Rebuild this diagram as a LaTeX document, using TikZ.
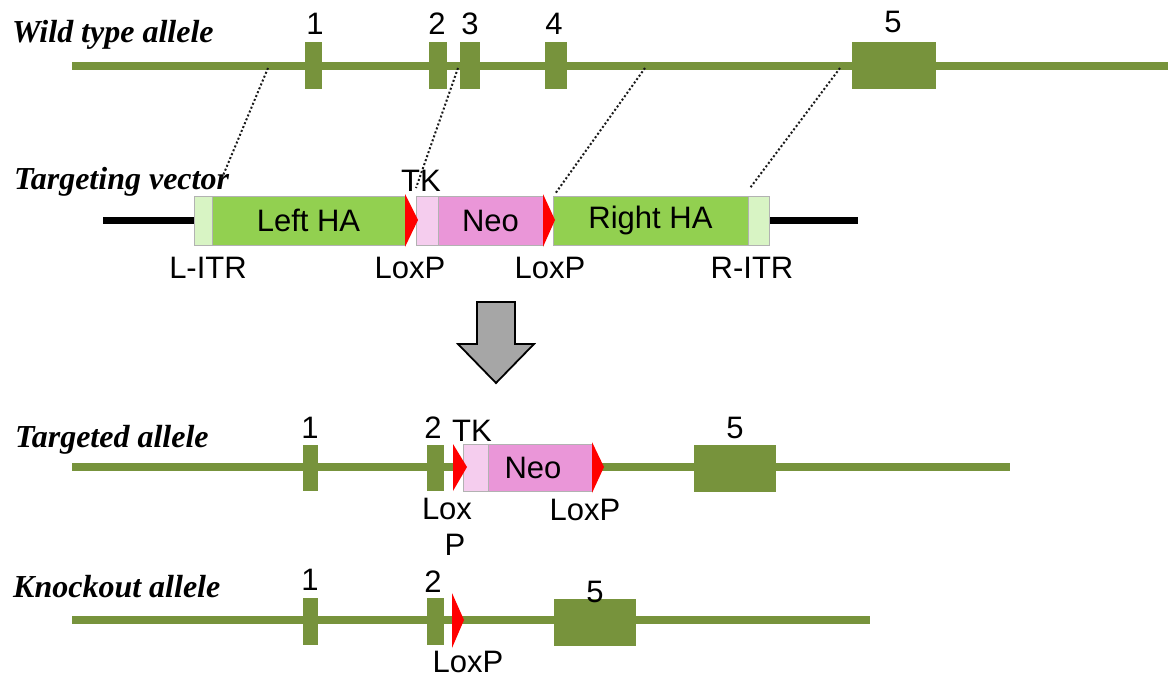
\documentclass[tikz,border=0pt]{standalone}
\usepackage{fontspec}
\setmainfont{Liberation Sans}
\newfontfamily\titlefont{Liberation Serif}
\definecolor{olive}{HTML}{77933C}
\definecolor{hagreen}{HTML}{92D050}
\definecolor{itrgreen}{HTML}{D8F4C4}
\definecolor{neopink}{HTML}{EA96D8}
\definecolor{tkpink}{HTML}{F5CDEE}
\definecolor{arrowgray}{HTML}{A6A6A6}
\begin{document}
\begin{tikzpicture}[x=1pt,y=-1pt,
  exon/.style={rectangle,fill=olive,draw=none,inner sep=0pt},
  blk/.style={rectangle,draw=black!30,line width=0.8pt,inner sep=0pt,font=\fontsize{31}{32}\selectfont},
  gene/.style={olive,line width=7.5pt},
  vec/.style={black,line width=7pt},
  lbl/.style={font=\fontsize{31}{32}\selectfont,inner sep=0pt},
  ttl/.style={font=\titlefont\bfseries\itshape\fontsize{32}{33}\selectfont,anchor=west,inner sep=0pt},
  lox/.style={fill=red,draw=none},
  guide/.style={line width=2pt,dash pattern=on 2pt off 2.2pt,black!90}]
\useasboundingbox (0,0) rectangle (1171,677);

% ---------- Wild type allele ----------
\node[ttl] (twt) at (12,35) {Wild type allele};
\coordinate (wtL) at (72,66);
\coordinate (wtR) at (1168,66);
\draw[gene] (wtL) -- (wtR);
\node[exon,minimum width=17pt,minimum height=47pt] (w1) at (313.5,65.5) {};
\node[exon,minimum width=18pt,minimum height=47pt] (w2) at (438,65.5) {};
\node[exon,minimum width=20pt,minimum height=47pt] (w3) at (470,65.5) {};
\node[exon,minimum width=22pt,minimum height=47pt] (w4) at (556,65.5) {};
\node[exon,minimum width=84pt,minimum height=47pt] (w5) at (894,65.5) {};
\node[lbl] (lw1) at (315,24) {1};
\node[lbl] (lw2) at (437,24) {2};
\node[lbl] (lw3) at (470,24) {3};
\node[lbl] (lw4) at (554,24) {4};
\node[lbl] (lw5) at (893,22) {5};

% ---------- Targeting vector ----------
\node[ttl] (ttv) at (14,182) {Targeting vector};
\coordinate (tvL) at (103,220);
\coordinate (tvR) at (858,220);
\draw[vec] (tvL) -- (194,220);
\draw[vec] (769,220) -- (tvR);
\node[blk,fill=itrgreen,minimum width=18pt,minimum height=49pt] (litr) at (203,220.5) {};
\node[blk,fill=hagreen,minimum width=193pt,minimum height=49pt] (lha) at (308.5,220.5) {Left HA};
\node[blk,fill=tkpink,minimum width=22pt,minimum height=49pt] (tk) at (427,220.5) {};
\node[blk,fill=neopink,minimum width=105pt,minimum height=49pt] (neo) at (490.5,220.5) {Neo};
\node[blk,fill=hagreen,minimum width=195pt,minimum height=49pt] (rha) at (650.5,220.5) {Right HA};
\node[blk,fill=itrgreen,minimum width=21pt,minimum height=49pt] (ritr) at (758.5,220.5) {};
\fill[lox] (405,194) -- (418,220) -- (405,247) -- cycle;
\fill[lox] (543,194) -- (555,220) -- (543,247) -- cycle;
\node[lbl] (ltk) at (421,181) {TK};
\node[lbl] (llitr) at (208,268) {L-ITR};
\node[lbl] (llox1) at (410,268) {LoxP};
\node[lbl] (llox2) at (550,268) {LoxP};
\node[lbl] (lritr) at (752,268) {R-ITR};

% dotted guide lines
\coordinate (g1a) at (268,68); \coordinate (g1b) at (222,178);
\coordinate (g2a) at (458,68); \coordinate (g2b) at (416,188);
\coordinate (g3a) at (645,68); \coordinate (g3b) at (555,194);
\coordinate (g4a) at (840,68); \coordinate (g4b) at (750,188);
\draw[guide] (g1a) -- (g1b);
\draw[guide] (g2a) -- (g2b);
\draw[guide] (g3a) -- (g3b);
\draw[guide] (g4a) -- (g4b);

% ---------- big arrow ----------
\draw[fill=arrowgray,draw=black,line width=1.8pt,line join=miter]
  (477,302) -- (515,302) -- (515,344) -- (534,344) -- (496,383) -- (458,344) -- (477,344) -- cycle;

% ---------- Targeted allele ----------
\node[ttl] (tta) at (15,440) {Targeted allele};
\coordinate (taL) at (72,467);
\coordinate (taR) at (1010,467);
\draw[gene] (taL) -- (taR);
\node[exon,minimum width=15pt,minimum height=46pt] (t1) at (310.5,467.5) {};
\node[exon,minimum width=17pt,minimum height=46pt] (t2) at (435.5,467.5) {};
\node[blk,fill=tkpink,minimum width=25pt,minimum height=47pt] (ttk) at (475.5,468) {};
\node[blk,fill=neopink,minimum width=104pt,minimum height=47pt] (tneo) at (540,468) {};
\node[lbl] at (533,468) {Neo};
\fill[lox] (453,444) -- (467,467) -- (453,491) -- cycle;
\fill[lox] (592,442) -- (604,467) -- (592,493) -- cycle;
\node[exon,minimum width=82pt,minimum height=47pt] (t5) at (735,468.5) {};
\node[lbl] (lt1) at (310,428) {1};
\node[lbl] (lt2) at (433,428) {2};
\node[lbl] (lttk) at (472,431) {TK};
\node[lbl] (ltlox1a) at (447,509) {Lox};
\node[lbl] (ltlox1b) at (455,545) {P};
\node[lbl] (ltlox2) at (585,510) {LoxP};
\node[lbl] (lt5) at (735,428) {5};

% ---------- Knockout allele ----------
\node[ttl] (tko) at (13,587) {Knockout allele};
\coordinate (koL) at (72,620);
\coordinate (koR) at (870,620);
\draw[gene] (koL) -- (koR);
\node[exon,minimum width=15pt,minimum height=47pt] (k1) at (310.5,621.5) {};
\node[exon,minimum width=17pt,minimum height=47pt] (k2) at (435.5,621.5) {};
\fill[lox] (452,593) -- (464,620) -- (452,648) -- cycle;
\node[exon,minimum width=82pt,minimum height=47pt] (k5) at (595,622.5) {};
\node[lbl] (lk1) at (310,580) {1};
\node[lbl] (lk2) at (433,582) {2};
\node[lbl] (lk5) at (595,592) {5};
\node[lbl] (lklox) at (468,662) {LoxP};
\end{tikzpicture}
\end{document}
